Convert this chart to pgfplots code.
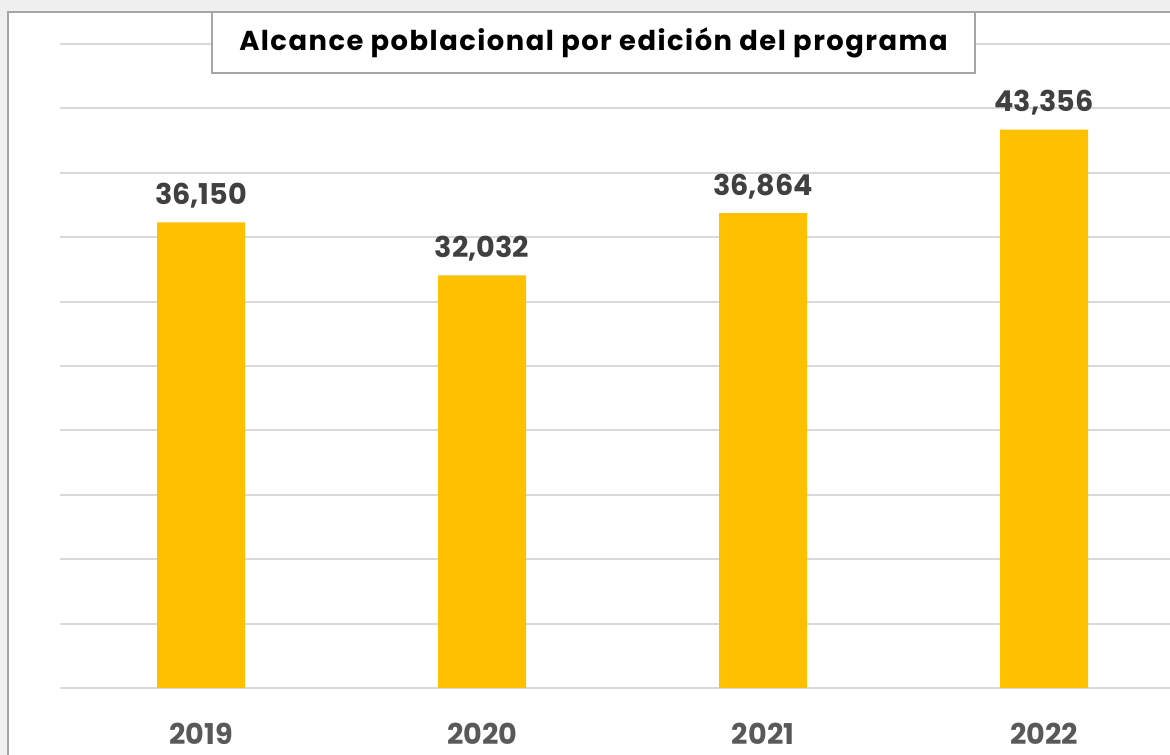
\documentclass[border=0pt]{standalone}
\usepackage{pgfplots}
\pgfplotsset{compat=1.18}
\usepackage{fontspec}
\setmainfont{Poppins}
\definecolor{bar}{HTML}{FFC000}
\definecolor{gridc}{HTML}{D9D9D9}
\definecolor{valc}{HTML}{404040}
\definecolor{labc}{HTML}{595959}
\definecolor{frame}{HTML}{A6A6A6}
\definecolor{bg}{HTML}{F0F0F0}
\begin{document}
\begin{tikzpicture}[x=0.75pt,y=0.75pt]
% image bounds in px relative to axis lower-left corner (px 60, 688)
\useasboundingbox (-60,-67) rectangle (1110,688);
\fill[bg] (-60,-67) rectangle (1110,688);
\fill[white] (-52,-80) rectangle (1120,676);
\draw[frame,line width=1.9pt] (-52,-80) -- (-52,676) -- (1120,676);
\begin{axis}[
  at={(0,0)}, anchor=south west,
  scale only axis,
  width=832.5pt, height=483pt,
  xmin=-0.502, xmax=3.448,
  ymin=0, ymax=50000,
  axis line style={draw=none},
  ymajorgrids,
  ytick={0,5000,...,50000},
  scaled y ticks=false,
  grid style={gridc, line width=1.4pt},
  xtick={0,1,2,3},
  xticklabels={2019,2020,2021,2022},
  xticklabel style={font=\bfseries\fontsize{21.5}{24}\selectfont, text=labc, yshift=-23pt},
  yticklabels={},
  major tick length=0pt,
  ybar, bar width=66pt,
  bar shift=0pt,
  nodes near coords,
  point meta=explicit symbolic,
  every node near coord/.append style={font=\bfseries\fontsize{21.5}{24}\selectfont, text=valc, yshift=7pt},
  clip=false,
]
\addplot[fill=bar, draw=none] coordinates {
  (0,36150) [36,150]
  (1,32032) [32,032]
  (2,36864) [36,864]
  (3,43356) [43,356]
};
\end{axis}
% title box: px x 212..975, y 12..73
\node[draw=frame, line width=1.1pt, fill=white, minimum width=572.25pt, minimum height=45.75pt, inner sep=0pt,
  text=black, font=\bfseries\fontsize{20.5}{22}\selectfont\addfontfeature{LetterSpace=5.5}] at (533.5,645.5) {Alcance poblacional por edición del programa};
\end{tikzpicture}
\end{document}
